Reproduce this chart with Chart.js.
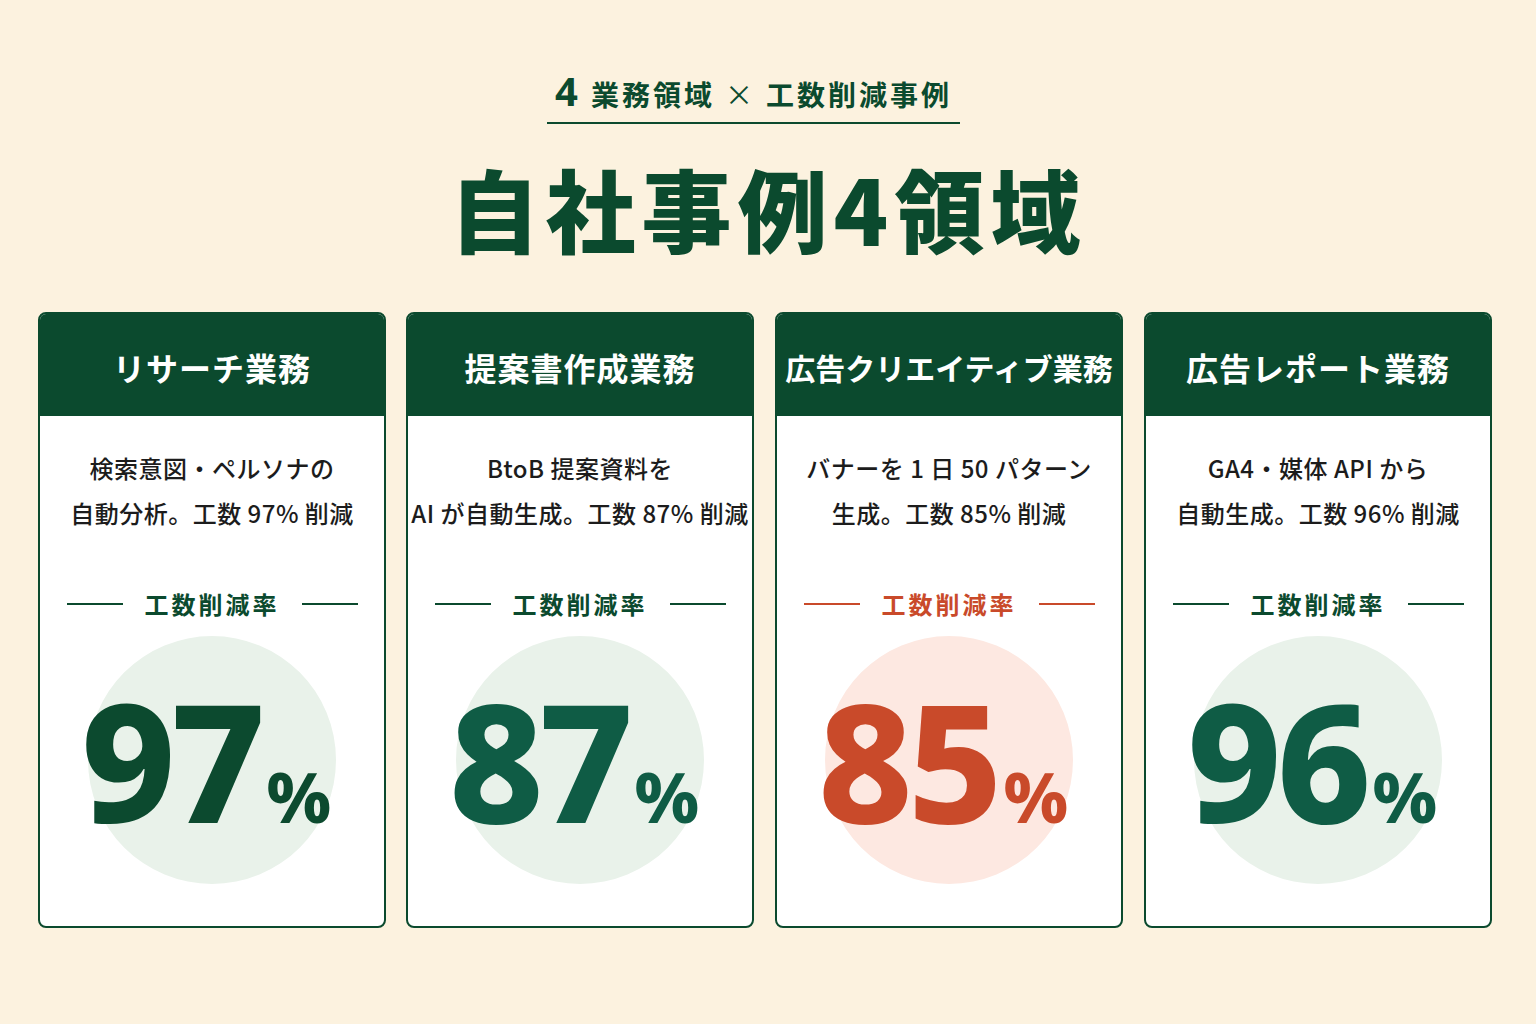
<!DOCTYPE html>
<html lang="ja">
<head>
<meta charset="utf-8">
<script src="https://cdn.jsdelivr.net/npm/chart.js@4"></script>
<style>
  html, body { margin: 0; padding: 0; }
  body {
    width: 1536px; height: 1024px; overflow: hidden; position: relative;
    background: #fcf2df;
    font-family: "Noto Sans CJK JP", "Noto Sans", sans-serif;
    color: #0b4a2e;
  }
  .sub {
    position: absolute; left: 547px; width: 413px; top: 62px; height: 60px;
    text-align: center; font-size: 28px; font-weight: 700; letter-spacing: 3px;
    border-bottom: 2px solid #0b4a2e; line-height: 58px;
  }
  .sub .four { font-size: 40px; font-family: "Noto Sans", sans-serif; margin-right: 10px; }
  .sub .x { font-weight: 400; margin: 0 10px; }
  .title {
    position: absolute; left: 0; width: 1536px; top: 142px; text-align: center;
    font-size: 90px; font-weight: 900; letter-spacing: 6px; line-height: 130px;
  }
  .card {
    position: absolute; top: 312px; width: 344px; height: 612px;
    background: #fff; border: 2px solid #0b4a2e; border-radius: 8px; overflow: hidden;
  }
  .head {
    height: 102px; background: #0b4a2e; color: #fff; text-align: center;
    font-size: 32px; font-weight: 700; line-height: 106px; letter-spacing: 1px; white-space: nowrap;
  }
  .head.long { font-size: 30px; letter-spacing: 0; }
  .desc {
    text-align: center; font-size: 24px; font-weight: 500; line-height: 45px; margin-top: 29px; color: #1c1c1c;
    white-space: nowrap; letter-spacing: 0.5px;
  }
  .label {
    position: absolute; top: 272px; left: 0; width: 100%; display: flex; align-items: center;
    justify-content: center; font-size: 24px; font-weight: 700; letter-spacing: 3px;
  }
  .label span.line { display: block; width: 56px; height: 2px; margin: 0 22px; }
  .circle { position: absolute; top: 322px; width: 248px; height: 248px; }
  .num {
    position: absolute; top: 346px; left: -6px; width: 100%; text-align: center;
    font-family: "Noto Sans", sans-serif; font-weight: 800; font-size: 164px; line-height: 200px;
    letter-spacing: -5px; white-space: nowrap;
  }
  .num small { font-size: 70px; letter-spacing: 0; margin-left: 6px; }
</style>
</head>
<body>
<div class="sub"><span class="four">4</span>業務領域<span class="x">×</span>工数削減事例</div>
<div class="title">自社事例4領域</div>
<div id="cards"></div>
<script>
var categories = ["リサーチ業務", "提案書作成業務", "広告クリエイティブ業務", "広告レポート業務"];
var descLine1 = ["検索意図・ペルソナの", "BtoB 提案資料を", "バナーを 1 日 50 パターン", "GA4・媒体 API から"];
var descLine2 = ["自動分析。工数 97% 削減", "AI が自動生成。工数 87% 削減", "生成。工数 85% 削減", "自動生成。工数 96% 削減"];
var rates = [97, 87, 85, 96];
var numColors = ["#0c4a2f", "#0f5c45", "#c94a2a", "#0f5c45"];
var labelColors = ["#0b4a2e", "#0b4a2e", "#c94a2a", "#0b4a2e"];
var circleColors = ["#e9f2ea", "#e9f2ea", "#fde8e1", "#e9f2ea"];
var cardLeft = [38, 406, 775, 1144];

categories.forEach(function (cat, i) {
    var card = document.createElement('div');
    card.className = 'card';
    card.style.left = cardLeft[i] + 'px';
    card.innerHTML =
        '<div class="head' + (cat.length > 9 ? ' long' : '') + '">' + cat + '</div>' +
        '<div class="desc">' + descLine1[i] + '<br>' + descLine2[i] + '</div>' +
        '<div class="label" style="color:' + labelColors[i] + '">' +
        '<span class="line" style="background:' + labelColors[i] + '"></span>工数削減率' +
        '<span class="line" style="background:' + labelColors[i] + '"></span></div>' +
        '<div class="circle" style="left:' + (172 - 124) + 'px"><canvas id="c' + i + '" width="248" height="248"></canvas></div>' +
        '<div class="num" style="color:' + numColors[i] + '">' + rates[i] + '<small>%</small></div>';
    document.getElementById('cards').appendChild(card);

    // background circle
    new Chart(document.getElementById('c' + i).getContext('2d'), {
        type: 'pie',
        data: {
            labels: [cat],
            datasets: [{ data: [100], backgroundColor: [circleColors[i]], borderWidth: 0 }]
        },
        options: {
            responsive: false,
            animation: false,
            plugins: { legend: { display: false }, tooltip: { enabled: false } }
        }
    });
});
</script>
</body>
</html>
